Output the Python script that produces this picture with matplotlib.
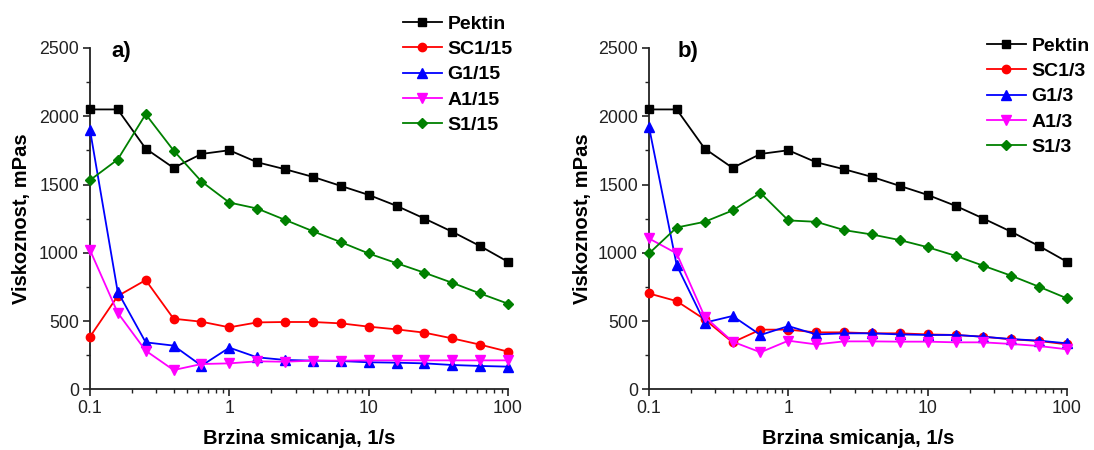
import numpy as np
import matplotlib
matplotlib.use("Agg")
import matplotlib.pyplot as plt
from matplotlib.ticker import FixedLocator, MultipleLocator, LogLocator, NullFormatter, FixedFormatter

plt.rcParams['font.family'] = ['Liberation Sans', 'DejaVu Sans']

shear = [0.1, 0.158, 0.251, 0.398, 0.631, 1.0, 1.585, 2.512, 3.98, 6.31,
         10.0, 15.85, 25.1, 39.8, 63.1, 100.0]

pektin = [2050, 2050, 1763, 1622, 1724, 1751, 1663, 1612, 1556, 1490,
          1424, 1344, 1251, 1154, 1049, 934]

# panel a)
sc1_15 = [385, 683, 800, 517, 495, 454, 490, 493, 493, 483, 459, 439, 415, 373, 327, 276]
g1_15 = [1900, 715, 344, 320, 173, 305, 234, 215, 210, 207, 198, 195, 190, 178, 171, 166]
a1_15 = [1020, 561, 283, 141, 185, 190, 205, 202, 210, 210, 212, 212, 212, 212, 212, 212]
s1_15 = [1532, 1683, 2015, 1749, 1522, 1368, 1324, 1241, 1158, 1078, 995, 924, 854, 780, 702, 627]

# panel b)
sc1_3 = [702, 646, 512, 344, 437, 437, 417, 417, 410, 410, 402, 398, 385, 366, 354, 329]
g1_3 = [1922, 910, 488, 537, 398, 463, 402, 410, 410, 402, 398, 398, 385, 368, 356, 337]
a1_3 = [1105, 995, 532, 349, 271, 356, 329, 351, 351, 349, 349, 344, 344, 332, 317, 293]
s1_3 = [995, 1185, 1227, 1310, 1439, 1237, 1227, 1166, 1134, 1093, 1041, 978, 905, 832, 751, 666]

labels_a = ["Pektin", "SC1/15", "G1/15", "A1/15", "S1/15"]
labels_b = ["Pektin", "SC1/3", "G1/3", "A1/3", "S1/3"]
series_a = [pektin, sc1_15, g1_15, a1_15, s1_15]
series_b = [pektin, sc1_3, g1_3, a1_3, s1_3]
colors = ["#000000", "#ff0000", "#0000ff", "#ff00ff", "#008000"]
markers = ["s", "o", "^", "v", "D"]
msizes = [5.5, 6, 7, 7, 5.5]

xticks = [0.1, 1, 10, 100]
xticklabels = ["0.1", "1", "10", "100"]
yticks = [0, 500, 1000, 1500, 2000, 2500]

W, H = 1094, 450
fig = plt.figure(figsize=(W / 100, H / 100), dpi=100)

def px(x0, y0, x1, y1):
    return [x0 / W, 1 - y1 / H, (x1 - x0) / W, (y1 - y0) / H]

ax_a = fig.add_axes(px(90, 48, 508, 389.3))
ax_b = fig.add_axes(px(649, 48, 1067, 389.3))

def style(ax, series, labels, tag, tagx, leg_x, leg_top, ylpad):
    handles = []
    for ys, lab, c, m, ms in zip(series, labels, colors, markers, msizes):
        h, = ax.plot(shear, ys, color=c, marker=m, markersize=ms, lw=1.3,
                     label=lab, clip_on=False, zorder=3)
        handles.append(h)
    ax.set_xscale('log')
    ax.set_xlim(0.1, 100)
    ax.set_ylim(0, 2500)
    ax.xaxis.set_major_locator(FixedLocator(xticks))
    ax.xaxis.set_major_formatter(FixedFormatter(xticklabels))
    ax.xaxis.set_minor_locator(LogLocator(base=10, subs=np.arange(2, 10)))
    ax.xaxis.set_minor_formatter(NullFormatter())
    ax.yaxis.set_major_locator(FixedLocator(yticks))
    ax.yaxis.set_minor_locator(MultipleLocator(250))
    for s in ['top', 'right']:
        ax.spines[s].set_visible(False)
    for s in ['left', 'bottom']:
        ax.spines[s].set_linewidth(1.3)
        ax.spines[s].set_color('#222222')
    ax.tick_params(which='major', direction='out', length=5, width=1.2,
                   labelsize=12.8, colors='#222222', pad=3)
    ax.tick_params(which='minor', direction='out', length=3, width=1.0, colors='#222222')
    ax.set_xlabel("Brzina smicanja, 1/s", fontsize=14.5, fontweight='bold', labelpad=8)
    ax.set_ylabel("Viskoznost, mPas", fontsize=14.5, fontweight='bold', labelpad=ylpad)
    ax.text(tagx, 0.99, tag, transform=ax.transAxes, fontsize=16, fontweight='bold',
            ha='left', va='center')
    fig.legend(handles=handles, loc='upper left',
               bbox_to_anchor=(leg_x / W, 1 - leg_top / H), bbox_transform=fig.transFigure,
               frameon=False, prop={'weight': 'bold', 'size': 14},
               handlelength=2.0, handletextpad=0.3, labelspacing=0.4,
               borderpad=0, borderaxespad=0)

style(ax_a, series_a, labels_a, "a)", 0.052, 403, 15, 6)
style(ax_b, series_b, labels_b, "b)", 0.068, 987, 37, 4)

fig.savefig("out.png", dpi=100)
